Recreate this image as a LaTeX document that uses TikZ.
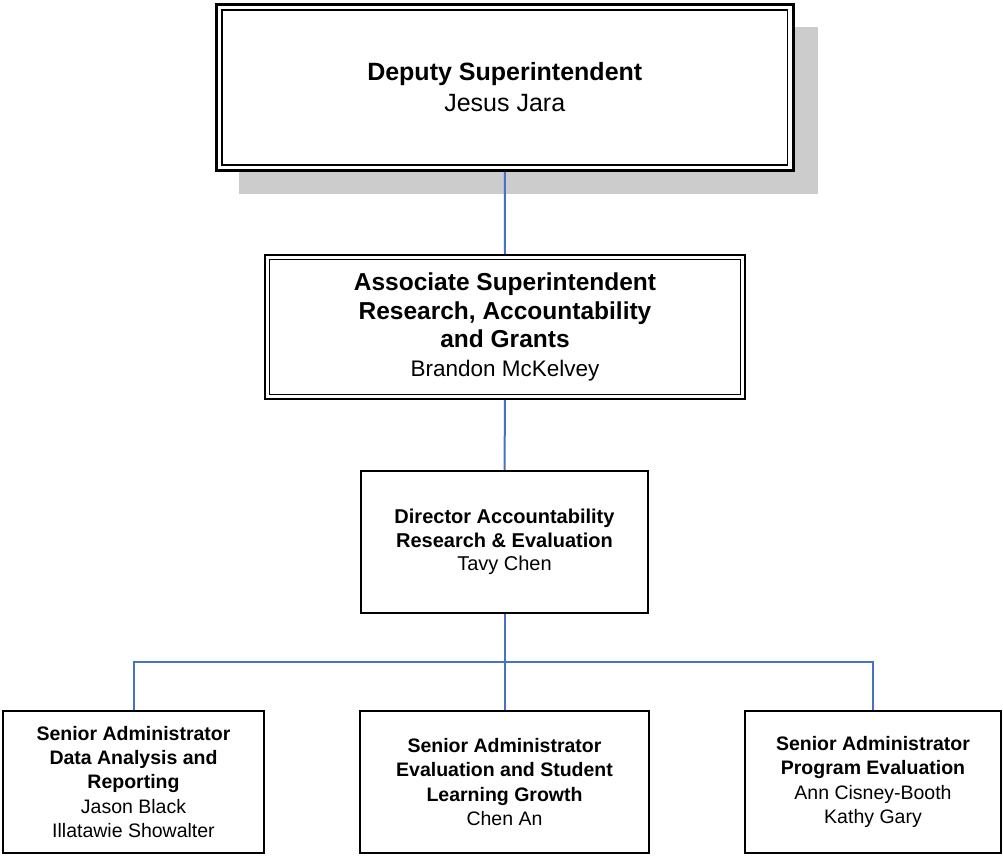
\documentclass[tikz,border=0pt]{standalone}
\usepackage{fontspec}
\setmainfont{Liberation Sans}
\usetikzlibrary{backgrounds}
\definecolor{connblue}{HTML}{4472C4}
\definecolor{shadowgray}{HTML}{CCCCCC}
\begin{document}
\begin{tikzpicture}[x=1pt,y=-1pt,
  box/.style={draw=black, fill=white, align=center, inner sep=0pt, outer sep=0pt},
  conn/.style={draw=connblue, line width=2pt},
  innerline/.style={draw=black, line width=1.5pt}]
\useasboundingbox (0,0) rectangle (1003,855);

% top box
\node[box, line width=3pt, minimum width=576.5pt, minimum height=166pt,
      font=\fontsize{25}{31}\selectfont] (dep) at (504.75,87.5)
  {\textbf{Deputy Superintendent}\\Jesus Jara};
\draw[innerline] ([shift={(5.5,5.5)}]dep.north west) rectangle ([shift={(-5.5,-5.5)}]dep.south east);

% second box
\node[box, line width=2.5pt, minimum width=480pt, minimum height=144pt,
      font=\fontsize{24.5}{28.5}\selectfont] (assoc) at (505,327)
  {\textbf{Associate Superintendent}\\\textbf{Research, Accountability}\\\textbf{and Grants}\\{\fontsize{22.5}{28.5}\selectfont Brandon McKelvey}};
\draw[innerline] ([shift={(4.5,4.5)}]assoc.north west) rectangle ([shift={(-4.5,-4.5)}]assoc.south east);

% third box
\node[box, line width=2pt, minimum width=287pt, minimum height=142pt,
      font=\fontsize{20}{23.5}\selectfont] (dir) at (504.5,542)
  {\textbf{Director Accountability}\\\textbf{Research \& Evaluation}\\Tavy Chen};

% bottom boxes
\node[box, line width=2pt, minimum width=261pt, minimum height=142pt,
      font=\fontsize{19.5}{24.3}\selectfont] (left) at (133.5,782)
  {\textbf{Senior Administrator}\\\textbf{Data Analysis and}\\\textbf{Reporting}\\Jason Black\\Illatawie Showalter};
\node[box, line width=2pt, minimum width=289pt, minimum height=142pt,
      font=\fontsize{19.5}{24.3}\selectfont] (mid) at (504.5,782)
  {\textbf{Senior Administrator}\\\textbf{Evaluation and Student}\\\textbf{Learning Growth}\\Chen An};
\node[box, line width=2pt, minimum width=256pt, minimum height=142pt,
      font=\fontsize{19.5}{24.3}\selectfont] (right) at (873,782)
  {\textbf{Senior Administrator}\\\textbf{Program Evaluation}\\Ann Cisney-Booth\\Kathy Gary};

\coordinate (bus) at (504.5,662);

\begin{scope}[on background layer]
  \fill[shadowgray] ([shift={(22,22)}]dep.north west) rectangle ([shift={(25,23)}]dep.south east);
  \draw[conn] (dep.south) -- (assoc.north);
  \draw[conn] (assoc.south) -- (dir.north);
  \draw[conn] (dir.south) -- (mid.north);
  \draw[conn] (left.north) -- (left.north |- bus) -- (right.north |- bus) -- (right.north);
\end{scope}
\end{tikzpicture}
\end{document}
